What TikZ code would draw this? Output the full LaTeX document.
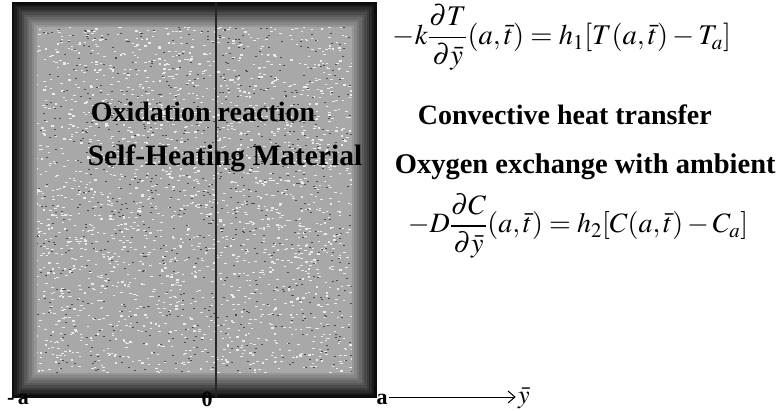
\documentclass[tikz,border=0pt]{standalone}
\usepackage{amsmath}
\usepackage{mathptmx}
\usepackage[no-math]{fontspec}
\setmainfont{Liberation Serif}
\usetikzlibrary{arrows.meta, positioning, calc}
\definecolor{slabc}{HTML}{A8A8A8}
\newcommand{\slab}[3]{%
  \node[fill=slabc, inner sep=0pt, minimum width=#3pt, minimum height=394pt]
        (#1) at #2 {};
  \pgfmathsetseed{11}
  \foreach \i in {1,...,2400}
    \fill[white!92!black] ($(#1.north west)+(16+rnd*330,10+rnd*372)$) rectangle +(2.5,1.2);
  \foreach \i in {1,...,900}
    \fill[black!70] ($(#1.north west)+(16+rnd*330,10+rnd*372)$) rectangle +(2,1);
  \foreach \k in {0,...,9} {
    \pgfmathsetmacro{\ring}{95-\k*6}
    \pgfmathsetmacro{\d}{\k*2.5+1.25}
    \draw[black!\ring, line width=2.5pt]
      ([shift={(\d pt,-\d pt)}]#1.north west) rectangle
      ([shift={(-\d pt,\d pt)}]#1.south east);
  }
}

\begin{document}
\begin{tikzpicture}[x=1pt, y=-1pt, >={Straight Barb[length=7pt, width=12pt]},
      line width=1pt, font=\fontsize{28}{32}\selectfont\bfseries,
      eqn/.style={anchor=base west, font=\fontsize{28.5}{34}\selectfont},
      lbl/.style={font=\fontsize{22}{24}\selectfont\bfseries, inner sep=1pt}]
    \useasboundingbox (0,0) rectangle (783,411);
    \slab{slab}{(194,200)}{364}
    \coordinate (ztop) at (216,3);
    \coordinate (zbot) at (216,397);
    \draw[black!85, line width=1.2pt] (ztop) -- (zbot);
    \node[anchor=base west] (ox) at (87,122) {Oxidation reaction};
    \node[anchor=base west, font=\fontsize{29.5}{32}\selectfont\bfseries] (shm) at (84,166) {Self-Heating Material};
    \node[eqn] (bct) at (389,45)
      {$-k\dfrac{\partial T}{\partial \bar{y}}(a,\bar{t}) = h_1[T(a,\bar{t})-T_a]$};
    \node[anchor=base west] (cht) at (414,125) {Convective heat transfer};
    \node[anchor=base west, font=\fontsize{28.5}{32}\selectfont\bfseries] (oxa) at (391,174) {Oxygen exchange with ambient};
    \node[eqn, font=\fontsize{28}{34}\selectfont] (bcc) at (404,233)
      {$-D\dfrac{\partial C}{\partial \bar{y}}(a,\bar{t}) = h_2[C(a,\bar{t})-C_a]$};
    \node[lbl] (la) at (18,399) {-\,a};
    \node[lbl] (lz) at (207,399) {0};
    \node[lbl] (ra) at (382,399) {a};
    \node[font=\fontsize{26}{30}\selectfont, inner sep=2pt] (ybar) at (524,398) {$\bar{y}$};
    \draw[->] (ra.east |- zbot) -- (ybar.west |- zbot);
  \end{tikzpicture}
\end{document}
